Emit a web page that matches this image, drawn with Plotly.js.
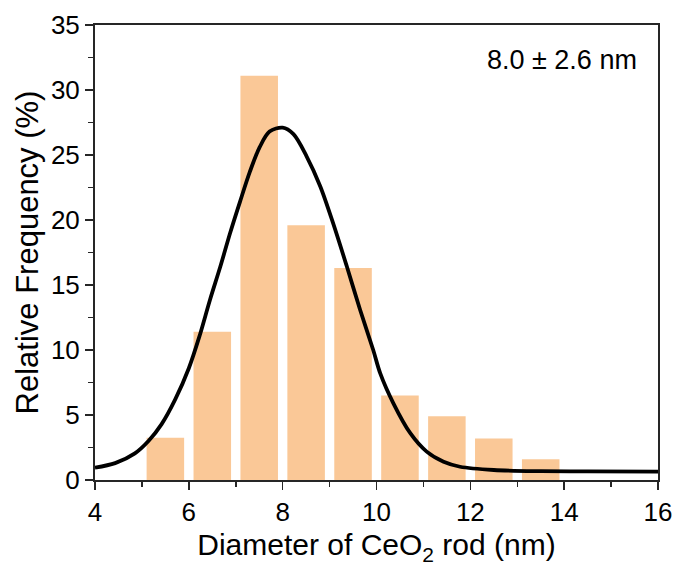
<!DOCTYPE html>
<html>
<head>
<meta charset="utf-8">
<script src="https://cdn.plot.ly/plotly-3.0.1.min.js"></script>
<style>html,body{margin:0;padding:0;background:#fff;}#chart{width:678px;height:574px;}</style>
</head>
<body>
<div id="chart"></div>
<script>
// Histogram bins (centres, nm) and relative frequency (%)
var binCenters = [5.5, 6.5, 7.5, 8.5, 9.5, 10.5, 11.5, 12.5, 13.5];
var frequency = [3.25, 11.4, 31.1, 19.6, 16.3, 6.5, 4.9, 3.2, 1.6];

// Fitted curve, points
var fitX = [4.0, 4.43, 4.85, 5.14, 5.42, 5.71, 6.0, 6.23, 6.45, 6.67, 6.88, 7.09, 7.3, 7.51, 7.72, 8.0, 8.23, 8.51, 8.8, 9.08, 9.37, 9.65, 9.93, 10.08, 10.36, 10.72, 11.07, 11.43, 11.78, 12.5, 13.5, 14.5, 16.0];
var fitY = [0.95, 1.3, 2.05, 3.0, 4.3, 6.2, 8.6, 11.1, 13.85, 16.4, 19.0, 21.4, 23.7, 25.6, 26.8, 27.1, 26.6, 24.9, 22.6, 19.7, 16.4, 13.1, 10.0, 8.2, 5.9, 3.6, 2.18, 1.4, 1.02, 0.77, 0.68, 0.66, 0.65];

var annotationText = "8.0 \u00b1 2.6 nm";

var font = "Liberation Sans, Arial, sans-serif";

var data = [
  {
    type: 'bar',
    x: binCenters,
    y: frequency,
    width: 0.8,
    marker: {color: '#FAC897', line: {width: 0}},
    hoverinfo: 'x+y'
  },
  {
    type: 'scatter',
    mode: 'lines',
    x: fitX,
    y: fitY,
    line: {color: '#000000', width: 3.8, shape: 'spline', smoothing: 0.9},
    hoverinfo: 'x+y'
  }
];

var axisCommon = {
  showline: true,
  linecolor: '#262626',
  linewidth: 2,
  mirror: true,
  ticks: 'outside',
  ticklen: 8,
  tickwidth: 1.5,
  tickcolor: '#262626',
  showgrid: false,
  zeroline: false,
  tickfont: {family: font, size: 26, color: '#000'}
};

var layout = {
  width: 678,
  height: 574,
  margin: {l: 95, r: 20, t: 25, b: 94},
  paper_bgcolor: '#fff',
  plot_bgcolor: '#fff',
  showlegend: false,
  font: {family: font, color: '#000'},
  xaxis: Object.assign({}, axisCommon, {
    range: [4, 16],
    dtick: 2,
    tick0: 4,
    minor: {dtick: 1, tick0: 4, ticklen: 5, tickwidth: 1.5, tickcolor: '#262626', ticks: 'outside'},
    title: {text: 'Diameter of CeO<sub>2</sub> rod (nm)', font: {family: font, size: 30, color: '#000'}, standoff: 8}
  }),
  yaxis: Object.assign({}, axisCommon, {
    range: [0, 35],
    dtick: 5,
    tick0: 0,
    minor: {dtick: 2.5, tick0: 0, ticklen: 5, tickwidth: 1.5, tickcolor: '#262626', ticks: 'outside'},
    title: {text: 'Relative Frequency (%)', font: {family: font, size: 31, color: '#000'}, standoff: 3}
  }),
  annotations: [{
    xref: 'paper', yref: 'paper',
    x: 0.83, y: 0.923,
    xanchor: 'center', yanchor: 'middle',
    text: annotationText,
    showarrow: false,
    font: {family: font, size: 27, color: '#000'}
  }]
};

Plotly.newPlot('chart', data, layout, {displayModeBar: false, staticPlot: true});
</script>
</body>
</html>
